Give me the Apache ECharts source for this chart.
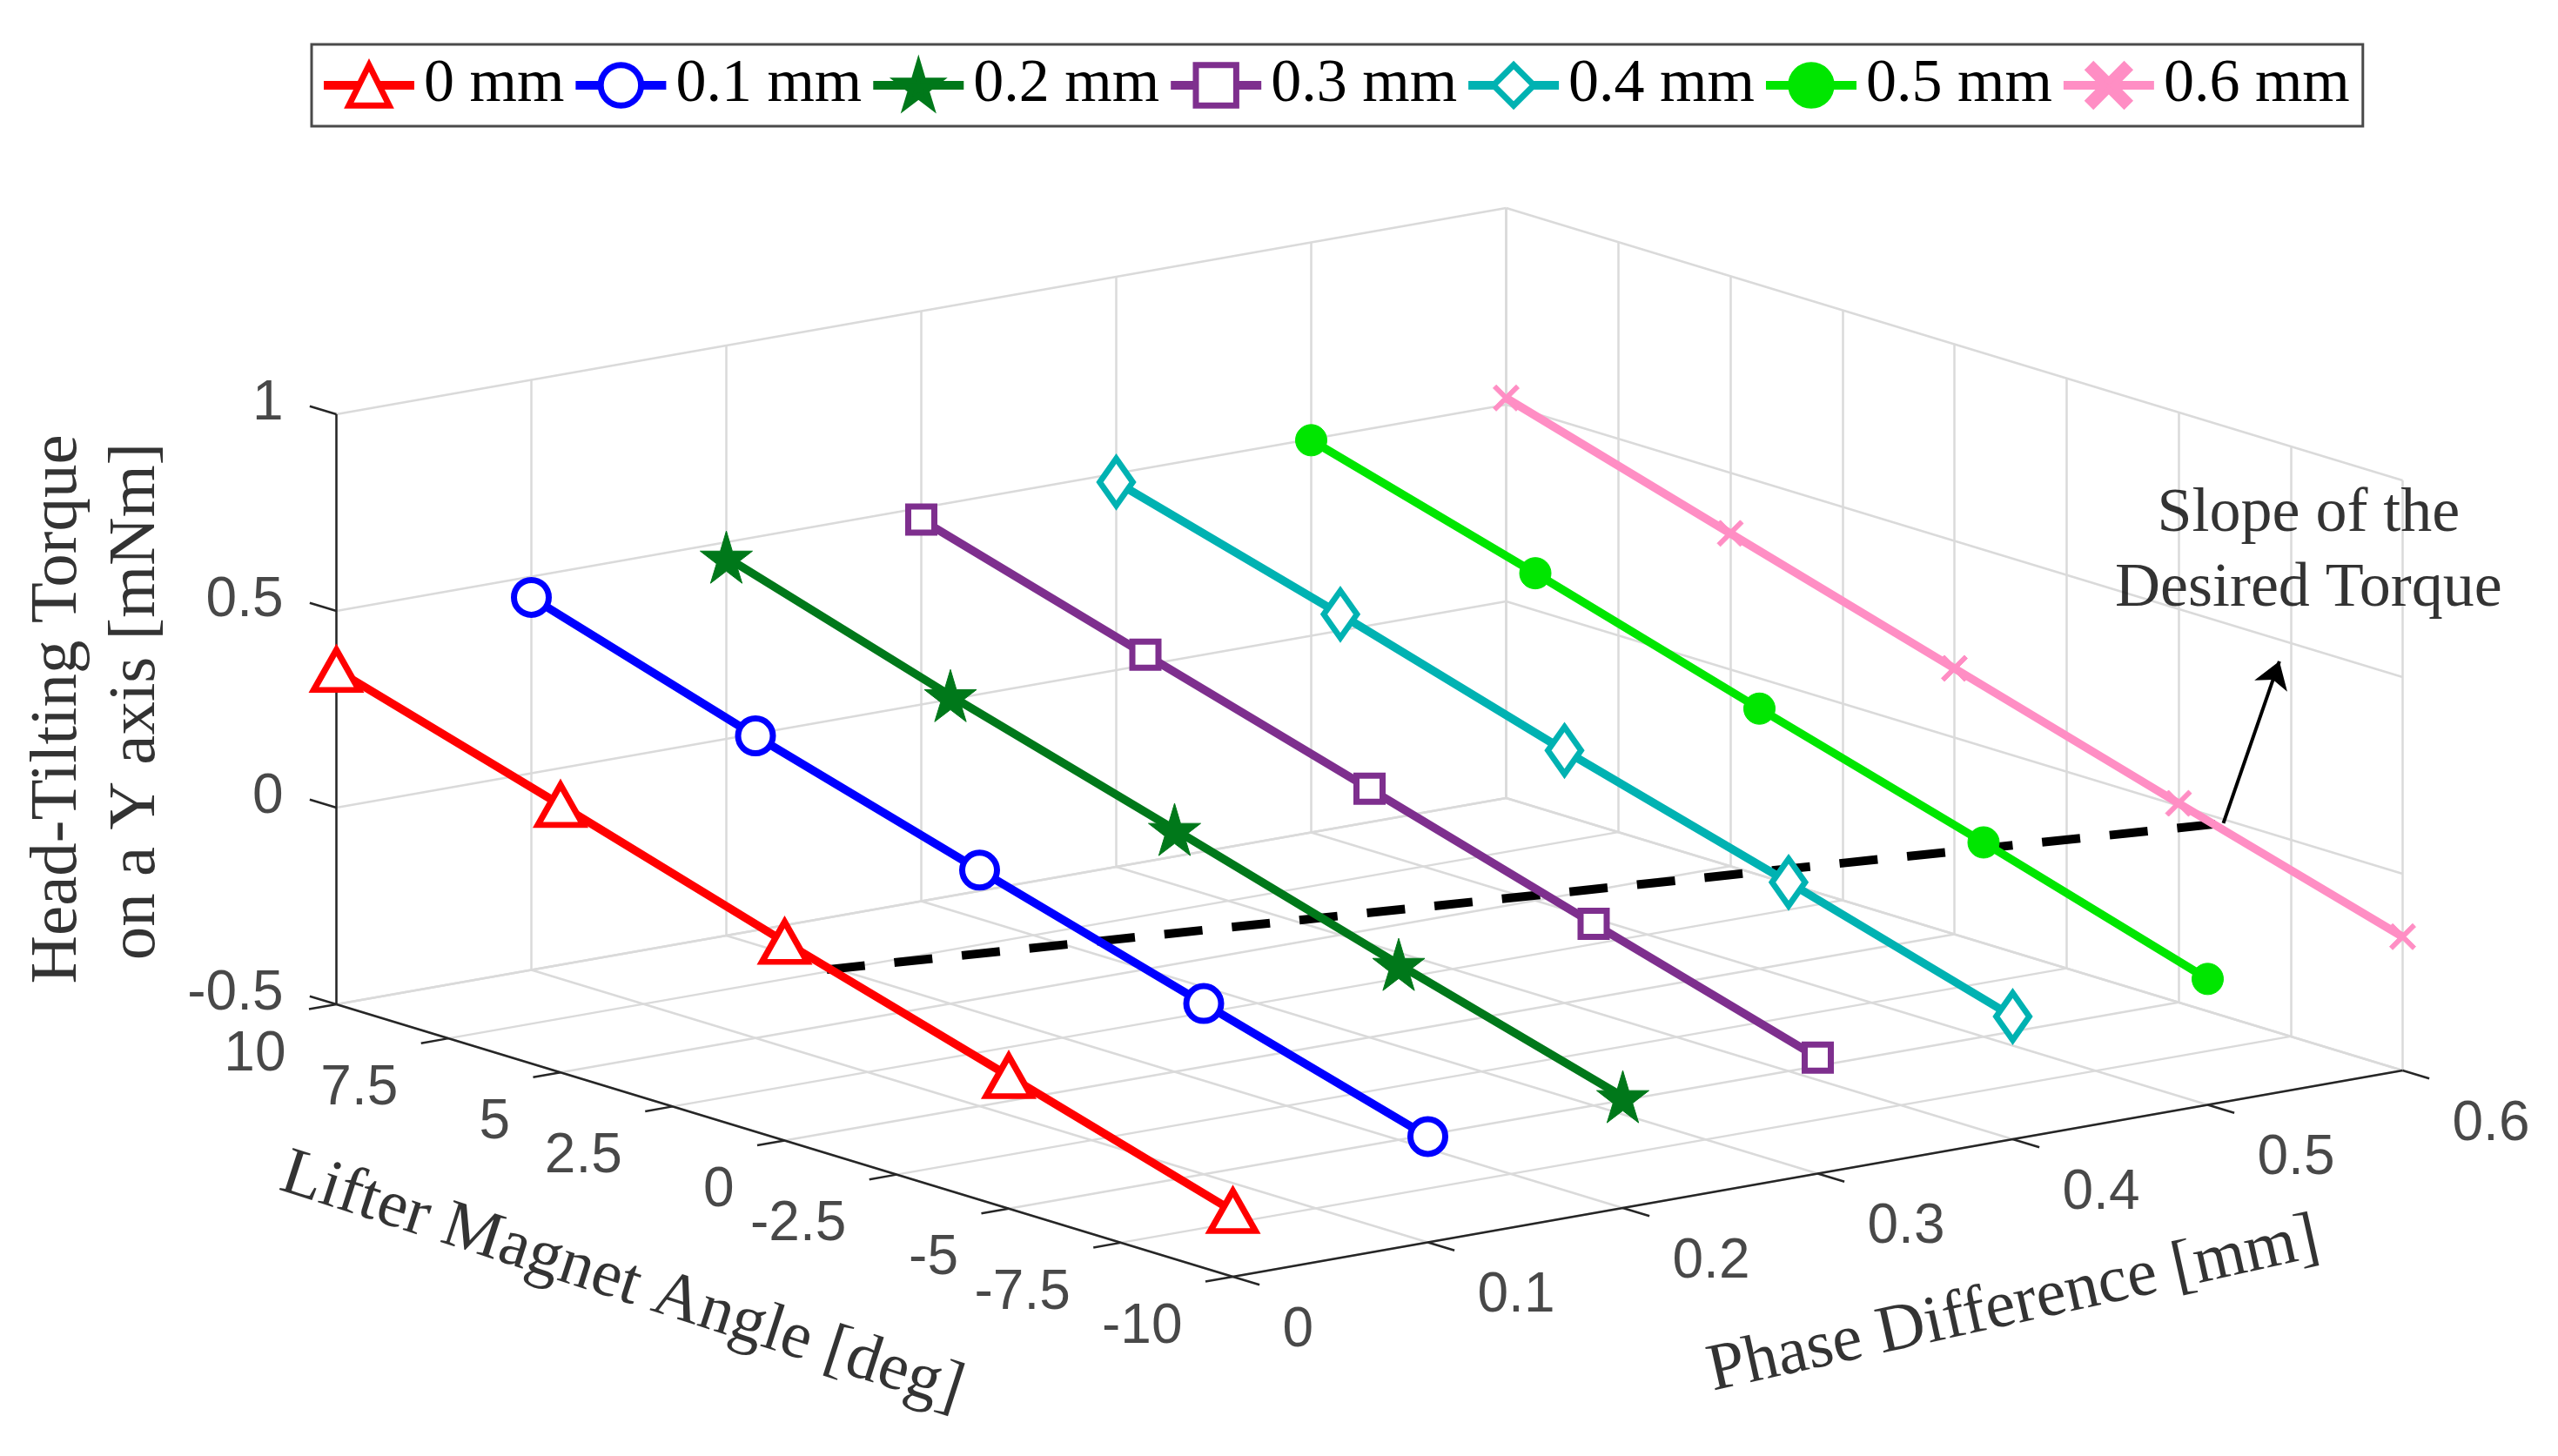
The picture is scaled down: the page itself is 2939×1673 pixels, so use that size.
<!DOCTYPE html>
<html>
<head>
<meta charset="utf-8">
<script src="https://cdn.jsdelivr.net/npm/echarts@6/dist/echarts.min.js"></script>
<style>
  html, body { margin: 0; padding: 0; background: #fff; }
  #chart { width: 2939px; height: 1673px; }
</style>
</head>
<body>
<div id="chart"></div>
<script>
// ---- data ----
const seriesNames = ['0 mm', '0.1 mm', '0.2 mm', '0.3 mm', '0.4 mm', '0.5 mm', '0.6 mm'];
const phases = [0, 0.1, 0.2, 0.3, 0.4, 0.5, 0.6];
const angles = [10, 5, 0, -5, -10];
const torque00 = [0.35, 0.18, 0.005, -0.163, -0.333];
const torque01 = [0.447, 0.268, 0.10, -0.066, -0.231];
const torque02 = [0.462, 0.283, 0.116, -0.054, -0.217];
const torque03 = [0.47, 0.30, 0.132, -0.038, -0.205];
const torque04 = [0.478, 0.315, 0.142, -0.02, -0.188];
const torque05 = [0.497, 0.332, 0.161, -0.006, -0.18];
const torque06 = [0.517, 0.346, 0.176, 0.006, -0.16];
const torques = [torque00, torque01, torque02, torque03, torque04, torque05, torque06];

const phaseTicks = [0, 0.1, 0.2, 0.3, 0.4, 0.5, 0.6];
const angleTicks = [10, 7.5, 5, 2.5, 0, -2.5, -5, -7.5, -10];
const torqueTicks = [-0.5, 0, 0.5, 1];
const phaseTickLabels = ['0', '0.1', '0.2', '0.3', '0.4', '0.5', '0.6'];
const angleTickLabels = ['10', '7.5', '5', '2.5', '0', '-2.5', '-5', '-7.5', '-10'];
const torqueTickLabels = ['-0.5', '0', '0.5', '1'];

// dashed "desired torque" line and its arrow, in data units [phase, angle, torque]
const slopeStart = [0, -0.94, -0.033];
const slopeEnd = [0.6, -6.0, -0.01];
const arrowTip = [0.6, -7.25, 0.445];
const noteAt = [0.6, -7.9, 0.745];

// ---- styles ----
const colors = ['#ff0000', '#0000ff', '#00781a', '#7e2f8e', '#00b2b2', '#00e600', '#ff8ec4'];
const STAR = 'path://M50,0 L61,35 L98,35 L68,57 L79,91 L50,70 L21,91 L32,57 L2,35 L39,35 Z';
const CROSS = 'path://M0,12 L12,0 L50,38 L88,0 L100,12 L62,50 L100,88 L88,100 L50,62 L12,100 L0,88 L38,50 Z';
const markers = [
  { symbol: 'triangle', size: [52, 46], hollow: true },
  { symbol: 'circle', size: 40, hollow: true },
  { symbol: STAR, size: 60, hollow: false },
  { symbol: 'rect', size: 30, hollow: true },
  { symbol: 'diamond', size: [38, 54], hollow: true },
  { symbol: 'circle', size: 36, hollow: false },
  { symbol: CROSS, size: 30, hollow: false }
];

// ---- orthographic projection of the MATLAB 3-D box onto the page ----
const O = [386.5, 1154];            // phase 0, angle 10, torque -0.5
const EP = [1344 / 0.6, -237 / 0.6]; // per mm
const EA = [-1030 / 20, -313 / 20];  // per degree
const ET = -678 / 1.5;               // per mNm
function proj(p, a, t) {
  return [O[0] + EP[0] * p + EA[0] * (a - 10),
          O[1] + EP[1] * p + EA[1] * (a - 10) + ET * (t + 0.5)];
}
function seg(a, b) { return { coords: [proj(...a), proj(...b)] }; }

const ua = [0.9568, 0.2907];   // screen direction of decreasing angle
const up = [0.9848, -0.1737];  // screen direction of increasing phase
const TICK = 32;

// grid lines on floor and both back walls
const gridSegs = [];
phaseTicks.forEach(p => {
  gridSegs.push(seg([p, 10, -0.5], [p, -10, -0.5]));
  gridSegs.push(seg([p, 10, -0.5], [p, 10, 1]));
});
angleTicks.forEach(a => {
  gridSegs.push(seg([0, a, -0.5], [0.6, a, -0.5]));
  gridSegs.push(seg([0.6, a, -0.5], [0.6, a, 1]));
});
torqueTicks.forEach(t => {
  gridSegs.push(seg([0, 10, t], [0.6, 10, t]));
  gridSegs.push(seg([0.6, 10, t], [0.6, -10, t]));
});

const axisSegs = [
  seg([0, 10, -0.5], [0, 10, 1]),
  seg([0, 10, -0.5], [0, -10, -0.5]),
  seg([0, -10, -0.5], [0.6, -10, -0.5])
];
const tickSegs = [];
const labelData = [];
torqueTicks.forEach((t, i) => {
  const q = proj(0, 10, t);
  tickSegs.push({ coords: [q, [q[0] - ua[0] * TICK, q[1] - ua[1] * TICK]] });
  labelData.push({ name: torqueTickLabels[i], value: [q[0] - 61, q[1] - 12], label: { align: 'right' } });
});
angleTicks.forEach((a, i) => {
  const q = proj(0, a, -0.5);
  tickSegs.push({ coords: [q, [q[0] - up[0] * TICK, q[1] - up[1] * TICK]] });
  labelData.push({ name: angleTickLabels[i], value: [q[0] - 58, q[1] + 58], label: { align: 'right' } });
});
phaseTicks.forEach((p, i) => {
  const q = proj(p, -10, -0.5);
  tickSegs.push({ coords: [q, [q[0] + ua[0] * TICK, q[1] + ua[1] * TICK]] });
  labelData.push({ name: phaseTickLabels[i], value: [q[0] + 57, q[1] + 62], label: { align: 'left' } });
});

// axis titles
const aMid = proj(0, 0, -0.5);
const pMid = proj(0.3, -10, -0.5);
const tMid = proj(0, 10, 0.25);
const titleData = [
  { name: 'Lifter Magnet Angle [deg]', value: [aMid[0] - 187, aMid[1] + 163], label: { rotate: -18 } },
  { name: 'Phase Difference [mm]', value: [pMid[0] + 225, pMid[1] + 152], label: { rotate: 12.5 } },
  { name: 'Head-Tilting Torque', value: [tMid[0] - 320, tMid[1]], label: { rotate: 90 } },
  { name: 'on a Y axis [mNm]', value: [tMid[0] - 230, tMid[1] - 9], label: { rotate: 90 } },
  { name: 'Slope of the\nDesired Torque', value: proj(...noteAt), label: { lineHeight: 86, fontSize: 72 } }
];

const lineSeries = phases.map((p, k) => {
  const m = markers[k];
  return {
    name: seriesNames[k],
    type: 'line',
    z: 10 + k,
    data: angles.map((a, i) => proj(p, a, torques[k][i])),
    symbol: m.symbol,
    symbolSize: m.size,
    showAllSymbol: true,
    lineStyle: { color: colors[k], width: 9.5 },
    itemStyle: m.hollow
      ? { color: '#ffffff', borderColor: colors[k], borderWidth: 7 }
      : { color: colors[k], borderColor: colors[k], borderWidth: 1 },
    emphasis: { disabled: true },
    silent: true
  };
});

const chart = echarts.init(document.getElementById('chart'));
chart.setOption({
  animation: false,
  backgroundColor: '#ffffff',
  grid: { left: 0, right: 0, top: 0, bottom: 0 },
  xAxis: { type: 'value', min: 0, max: 2939, show: false },
  yAxis: { type: 'value', min: 0, max: 1673, inverse: true, show: false },
  legend: {
    data: seriesNames,
    left: 358,
    top: 51,
    orient: 'horizontal',
    itemWidth: 104,
    itemHeight: 58,
    itemGap: 8,
    padding: [12, 15, 12, 9],
    borderColor: '#4a4a4a',
    borderWidth: 3,
    backgroundColor: '#ffffff',
    selectedMode: false,
    lineStyle: { width: 10 },
    itemStyle: { borderWidth: 7 },
    textStyle: {
      fontFamily: 'Liberation Serif',
      fontSize: 70,
      color: '#000',
      padding: [0, 0, 0, 6]
    }
  },
  series: [
    {
      type: 'lines', coordinateSystem: 'cartesian2d', z: 1, silent: true,
      data: gridSegs,
      lineStyle: { color: '#dadada', width: 2.5, opacity: 1 }
    },
    {
      type: 'lines', coordinateSystem: 'cartesian2d', z: 2, silent: true,
      data: axisSegs.concat(tickSegs),
      lineStyle: { color: '#262626', width: 2.5, opacity: 1 }
    },
    {
      type: 'scatter', z: 3, silent: true, symbolSize: 0,
      data: labelData,
      label: {
        show: true, formatter: '{b}', position: 'inside', verticalAlign: 'middle',
        fontFamily: 'Liberation Sans', fontSize: 64, color: '#1a1a1a'
      }
    },
    {
      type: 'scatter', z: 3, silent: true, symbolSize: 0,
      data: titleData,
      label: {
        show: true, formatter: '{b}', position: 'inside', align: 'center', verticalAlign: 'middle',
        fontFamily: 'Liberation Serif', fontSize: 77, color: '#000'
      }
    },
    {
      name: 'slope', type: 'line', z: 8, silent: true, symbol: 'none',
      data: [proj(...slopeStart), proj(...slopeEnd)],
      lineStyle: { color: '#000', width: 10, type: [44, 34] }
    },
    {
      type: 'lines', coordinateSystem: 'cartesian2d', z: 30, silent: true,
      data: [{ coords: [proj(...slopeEnd), proj(...arrowTip)] }],
      symbol: ['none', 'arrow'], symbolSize: 30,
      lineStyle: { color: '#000', width: 4, opacity: 1 }
    }
  ].concat(lineSeries)
});
</script>
</body>
</html>
